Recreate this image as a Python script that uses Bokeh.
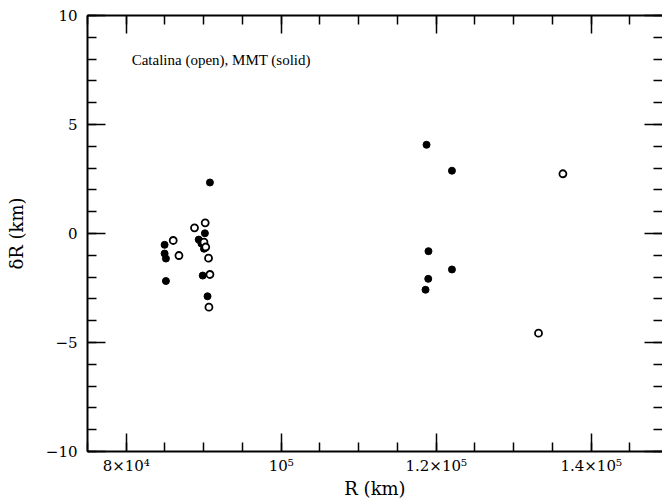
from bokeh.plotting import figure
from bokeh.models import Range1d, FixedTicker, LinearAxis, Label, CustomLabelingPolicy
from bokeh.embed import file_html
from bokeh.resources import INLINE

# MMT (solid) measurements
mmt_r = [90800, 84950, 84950, 85120, 85120, 90150, 89350, 89700, 90030, 89870, 90490,
         118750, 119000, 118970, 118620, 122030, 122030]
mmt_dr = [2.34, -0.52, -0.92, -1.15, -2.18, 0.01, -0.28, -0.46, -0.70, -1.93, -2.88,
          4.07, -0.81, -2.08, -2.58, 2.88, -1.65]

# Catalina (open) measurements
cat_r = [86060, 86800, 88810, 90190, 90030, 90260, 90620, 90800, 90670, 136350, 133200]
cat_dr = [-0.32, -1.01, 0.26, 0.49, -0.40, -0.62, -1.13, -1.88, -3.38, 2.74, -4.57]

x_ticks = [80000, 100000, 120000, 140000]
x_tick_labels = ["8×10⁴", "10⁵", "1.2×10⁵", "1.4×10⁵"]
x_minor = list(range(75000, 150001, 5000))
y_ticks = [-10, -5, 0, 5, 10]
y_tick_labels = ["−10", "−5", "0", "5", "10"]
y_minor = list(range(-10, 11))

FONT = "DejaVu Serif"

p = figure(frame_width=575, frame_height=436, output_backend="svg", toolbar_location=None,
           x_range=Range1d(75000, 149200), y_range=Range1d(-10, 10),
           min_border_left=87, min_border_top=15, min_border_bottom=51, min_border_right=0,
           x_axis_label="R (km)", y_axis_label="δR (km)")
p.grid.visible = False
p.outline_line_color = None
p.background_fill_color = "white"
p.border_fill_color = "white"

no_labels = CustomLabelingPolicy(code="for (const i of Array.from(indices)) { indices.unset(i) }; return indices")


def style(ax, ticks, minor, labels, show_labels=True, line=True):
    ax.ticker = FixedTicker(ticks=ticks, minor_ticks=minor)
    ax.major_tick_in = 18
    ax.major_tick_out = 0
    ax.minor_tick_in = 9
    ax.minor_tick_out = 0
    ax.major_tick_line_color = "black"
    ax.minor_tick_line_color = "black"
    ax.major_tick_line_width = 1.5
    ax.minor_tick_line_width = 1.5
    ax.axis_line_width = 2
    ax.axis_line_color = "black" if line else None
    if show_labels:
        ax.major_label_overrides = {t: l for t, l in zip(ticks, labels)}
        ax.major_label_text_font = FONT
        ax.major_label_text_font_size = "15px"
        ax.major_label_text_color = "black"
    else:
        ax.major_label_policy = no_labels
        ax.major_label_standoff = 0


xa = p.xaxis[0]
style(xa, x_ticks, x_minor, x_tick_labels)
xa.major_label_standoff = 5
xa.axis_label_text_font = FONT
xa.axis_label_text_font_style = "normal"
xa.axis_label_text_font_size = "18px"
xa.axis_label_text_color = "black"
xa.axis_label_standoff = 0

ya = p.yaxis[0]
style(ya, y_ticks, y_minor, y_tick_labels)
ya.major_label_standoff = 10
ya.major_label_orientation = "horizontal"
ya.axis_label_text_font = FONT
ya.axis_label_text_font_style = "normal"
ya.axis_label_text_font_size = "18px"
ya.axis_label_text_color = "black"
ya.axis_label_standoff = 16

top = LinearAxis()
style(top, x_ticks, x_minor, x_tick_labels, show_labels=False)
p.add_layout(top, "above")

right = LinearAxis()
style(right, y_ticks, y_minor, y_tick_labels, show_labels=False, line=False)
p.add_layout(right, "right")

p.scatter(mmt_r, mmt_dr, size=7, marker="circle", fill_color="black", line_color="black")
p.scatter(cat_r, cat_dr, size=7, marker="circle", fill_color="white", line_color="black",
          line_width=1.8)

p.add_layout(Label(x=80700, y=7.95, text="Catalina (open), MMT (solid)",
                   text_font="Liberation Serif", text_font_size="15px", text_baseline="middle",
                   text_align="left", text_color="black"))

open("out.html", "w").write(file_html(p, INLINE))
